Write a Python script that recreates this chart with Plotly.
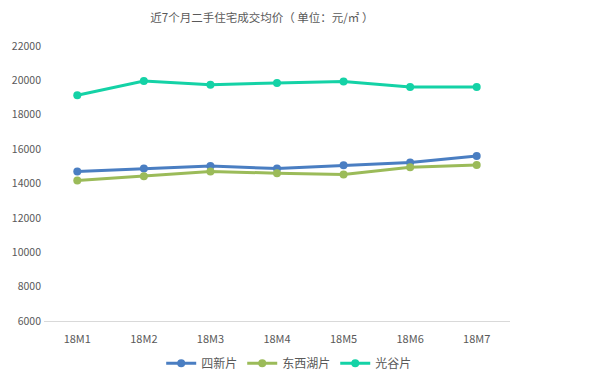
import plotly.graph_objects as go

categories = ["18M1", "18M2", "18M3", "18M4", "18M5", "18M6", "18M7"]
sixin = [14700, 14870, 15020, 14870, 15060, 15220, 15600]
dongxihu = [14170, 14420, 14700, 14600, 14520, 14950, 15080]
guanggu = [19130, 19960, 19750, 19850, 19940, 19610, 19610]
y_ticks = [6000, 8000, 10000, 12000, 14000, 16000, 18000, 20000, 22000]

series = [
    ("四新片", sixin, "#4A7EC2"),
    ("东西湖片", dongxihu, "#9BBB59"),
    ("光谷片", guanggu, "#14D2A6"),
]

FONT = "Noto Sans CJK SC, Microsoft YaHei, sans-serif"

fig = go.Figure()
for name, vals, color in series:
    fig.add_trace(go.Scatter(
        x=categories, y=vals, name=name, mode="lines+markers",
        line=dict(color=color, width=3),
        marker=dict(color=color, size=8),
    ))

fig.update_layout(
    width=581, height=375,
    margin=dict(l=36, r=79, t=38, b=62, autoexpand=False),
    paper_bgcolor="white", plot_bgcolor="white",
    font=dict(family=FONT, color="#595959", size=11),
    title=dict(text="近7个月二手住宅成交均价（ 单位：元/㎡ ）", x=0.437, xanchor="center",
               y=0.973, yanchor="middle", font=dict(size=11.5, color="#595959", family=FONT)),
    xaxis=dict(showgrid=False, showline=True, linecolor="#D9D9D9", linewidth=1,
               range=[-0.5, 6.5], ticks="", tickfont=dict(size=11, color="#595959"),
               zeroline=False, ticklabelstandoff=8),
    yaxis=dict(range=[6000, 22000], tickvals=y_ticks, ticktext=[str(v) for v in y_ticks],
               showgrid=False, showline=False, zeroline=False, ticks="",
               tickfont=dict(size=10.5, color="#595959"), ticklabelstandoff=2),
    legend=dict(orientation="h", x=0.484, xanchor="center", xref="container",
                y=0.053, yanchor="middle", yref="container",
                font=dict(size=12, color="#595959"), itemwidth=30, tracegroupgap=0),
    showlegend=True,
)

fig.write_html("out.html")
